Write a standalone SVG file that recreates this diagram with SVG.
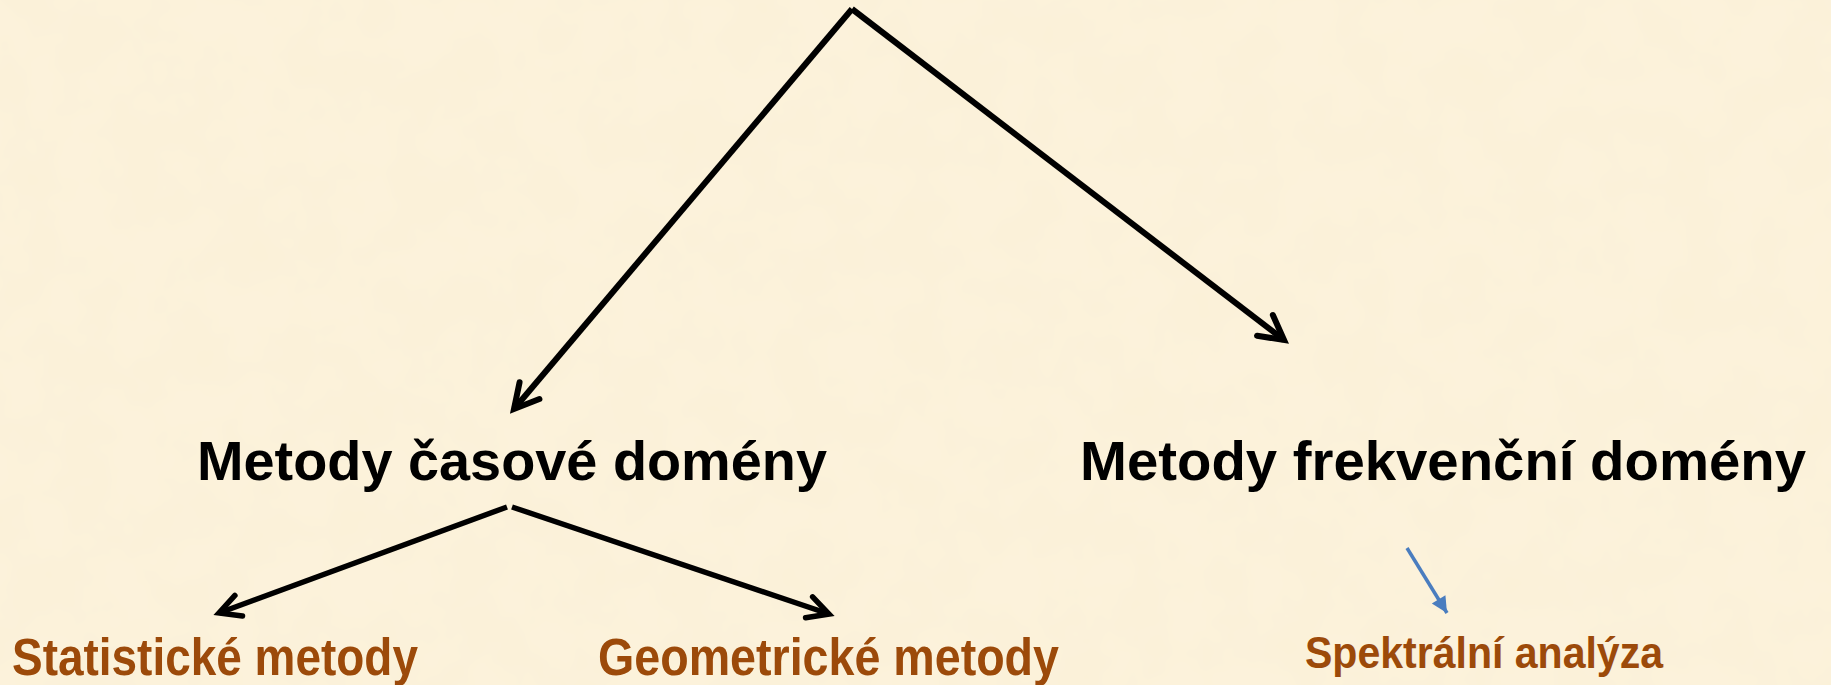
<svg xmlns="http://www.w3.org/2000/svg" width="1831" height="685" viewBox="0 0 1831 685">
<style>
.main{font-family:"Liberation Sans",Arial,sans-serif;font-weight:bold;fill:#000;font-size:56px}
.sub{font-family:"Liberation Sans",Arial,sans-serif;font-weight:bold;fill:#9C4A0A}
.blk{fill:none;stroke:#000;stroke-width:6}
.blk2{fill:none;stroke:#000;stroke-width:5.5}
.blue{fill:none;stroke:#4A7DBF;stroke-width:3.5}
</style>
<defs>
<filter id="tex" x="0" y="0" width="100%" height="100%">
<feTurbulence type="fractalNoise" baseFrequency="0.018" numOctaves="3" seed="7"/>
<feColorMatrix type="matrix" values="0 0 0 0 0.92  0 0 0 0 0.84  0 0 0 0 0.62  0 0 0 0.4 -0.12"/>
</filter>
<marker id="openL" markerUnits="userSpaceOnUse" markerWidth="40" markerHeight="40" viewBox="-30 -20 40 40" refX="0" refY="0" orient="auto">
<path d="M -24 -13 L 0 0 L -24 13" fill="none" stroke="#000" stroke-width="6" stroke-linecap="round"/>
</marker>
<marker id="openS" markerUnits="userSpaceOnUse" markerWidth="40" markerHeight="40" viewBox="-30 -20 40 40" refX="0" refY="0" orient="auto">
<path d="M -21 -11 L 0 0 L -21 11" fill="none" stroke="#000" stroke-width="5.5" stroke-linecap="round"/>
</marker>
<marker id="tri" markerUnits="userSpaceOnUse" markerWidth="22" markerHeight="22" viewBox="-18 -11 22 22" refX="0" refY="0" orient="auto">
<path d="M -16 -8 L 0 0 L -16 8 Z" fill="#4A7DBF"/>
</marker>
</defs>
<rect width="1831" height="685" fill="#FCF2DB"/>
<rect width="1831" height="685" filter="url(#tex)"/>
<g id="connectors">
<line class="blk" x1="852" y1="9" x2="514" y2="409" marker-end="url(#openL)"/>
<line class="blk" x1="852" y1="9" x2="1284" y2="340" marker-end="url(#openL)"/>
<line class="blk2" x1="507" y1="507" x2="219" y2="613" marker-end="url(#openS)"/>
<line class="blk2" x1="512" y1="507" x2="829" y2="614" marker-end="url(#openS)"/>
<line class="blue" x1="1407" y1="548" x2="1447" y2="613" marker-end="url(#tri)"/>
</g>
<g id="node-time">
<text class="main" x="197" y="480" textLength="630" lengthAdjust="spacingAndGlyphs">Metody časové domény</text>
</g>
<g id="node-freq">
<text class="main" x="1080" y="480" textLength="726" lengthAdjust="spacingAndGlyphs">Metody frekvenční domény</text>
</g>
<g id="node-stat">
<text class="sub" x="12" y="675" font-size="51" textLength="406" lengthAdjust="spacingAndGlyphs">Statistické metody</text>
</g>
<g id="node-geom">
<text class="sub" x="598" y="675" font-size="51" textLength="461" lengthAdjust="spacingAndGlyphs">Geometrické metody</text>
</g>
<g id="node-spec">
<text class="sub" x="1305" y="668" font-size="45" textLength="358" lengthAdjust="spacingAndGlyphs">Spektrální analýza</text>
</g>
</svg>
